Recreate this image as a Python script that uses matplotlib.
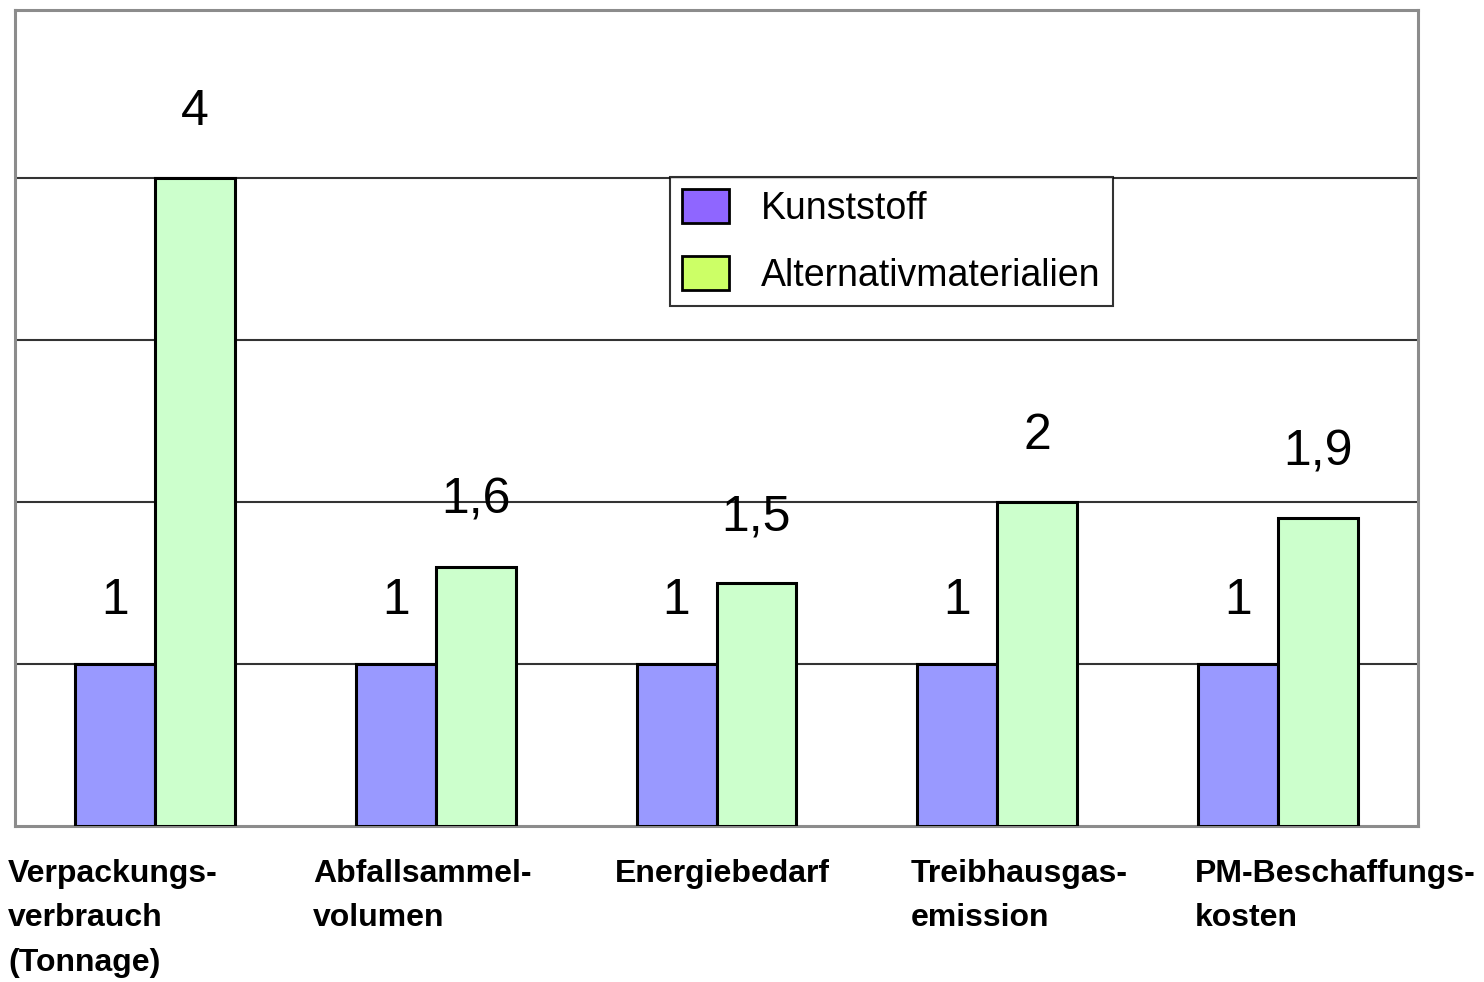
import numpy as np
import matplotlib.pyplot as plt
from matplotlib.patches import Patch

categories = ["Verpackungs-\nverbrauch\n(Tonnage)", "Abfallsammel-\nvolumen",
              "Energiebedarf", "Treibhausgas-\nemission", "PM-Beschaffungs-\nkosten"]
kunststoff = [1, 1, 1, 1, 1]
alternativ = [4, 1.6, 1.5, 2, 1.9]
kunststoff_labels = ["1", "1", "1", "1", "1"]
alternativ_labels = ["4", "1,6", "1,5", "2", "1,9"]

# left edge of each category label, in figure pixels (label blocks are not centred)
label_left_px = [8, 313, 615, 911, 1195]

W, H = 1484, 982
fig = plt.figure(figsize=(W / 100, H / 100), dpi=100)
ax = fig.add_axes([15 / W, (H - 826) / H, (1418 - 15) / W, (826 - 10) / H])

x = np.arange(len(categories))
w = 0.285
ax.bar(x - w / 2, kunststoff, w, color="#9999ff", edgecolor="black", linewidth=2.2, zorder=3)
ax.bar(x + w / 2, alternativ, w, color="#ccffcc", edgecolor="black", linewidth=2.2, zorder=3)

ax.set_xlim(-0.5, len(categories) - 0.5)
ax.set_ylim(0, 5.04)
ax.set_yticks([1, 2, 3, 4])
ax.yaxis.grid(True, color="#333333", linewidth=1.5, zorder=0)
ax.tick_params(left=False, bottom=False, labelleft=False, labelbottom=False)
for s in ax.spines.values():
    s.set_color("#8c8c8c")
    s.set_linewidth(2.2)

num_font = ["Liberation Sans", "DejaVu Sans"]
for i in range(len(categories)):
    ax.annotate(kunststoff_labels[i], (x[i] - w / 2, kunststoff[i]), xytext=(0, 29),
                textcoords="offset points", ha="center", va="bottom", fontsize=36, family=num_font)
    ax.annotate(alternativ_labels[i], (x[i] + w / 2, alternativ[i]), xytext=(0, 31),
                textcoords="offset points", ha="center", va="bottom", fontsize=36, family=num_font)

for lbl, px in zip(categories, label_left_px):
    fig.text(px / W, (H - 859) / H, lbl, ha="left", va="top", fontsize=23,
             family="Liberation Sans", fontweight="bold", linespacing=1.63)

handles = [Patch(facecolor="#8f66ff", edgecolor="black", linewidth=2),
           Patch(facecolor="#ccff66", edgecolor="black", linewidth=2)]
leg = ax.legend(handles, ["Kunststoff", "Alternativmaterialien"], loc="upper left",
                bbox_to_anchor=((670 - 15) / 1403, (826 - 177) / 816),
                prop={"family": "Liberation Sans", "size": 27}, frameon=True, fancybox=False,
                handlelength=1.25, handleheight=1.0, handletextpad=0.85, borderpad=0.33,
                labelspacing=0.78, borderaxespad=0)
leg.get_frame().set_edgecolor("black")
leg.get_frame().set_linewidth(1.5)

fig.savefig("out.png", dpi=100)
